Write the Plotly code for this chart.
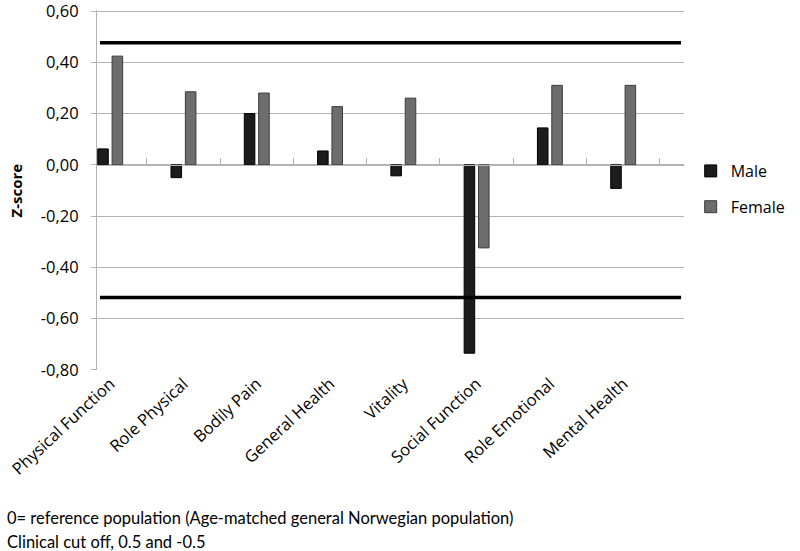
import plotly.graph_objects as go

categories = ["Physical Function", "Role Physical", "Bodily Pain", "General Health",
              "Vitality", "Social Function", "Role Emotional", "Mental Health"]
male = [0.062, -0.050, 0.200, 0.054, -0.043, -0.735, 0.144, -0.092]
female = [0.424, 0.285, 0.280, 0.227, 0.260, -0.324, 0.310, 0.310]
cutoff_upper = 0.476
cutoff_lower = -0.518
y_ticks = [0.6, 0.4, 0.2, 0.0, -0.2, -0.4, -0.6, -0.8]
y_ticktext = ["0,60", "0,40", "0,20", "0,00", "-0,20", "-0,40", "-0,60", "-0,80"]
y_title = "Z-score"
footnote_lines = ["0= reference population (Age-matched general Norwegian population)",
                  "Clinical cut off, 0.5 and -0.5"]

FONT = "Open Sans"
GRID = "#b3b3b3"
ymin, ymax = -0.8, 0.6
yr = [ymin - 0.0005, ymax + 0.004]
xr = [-0.18, 7.83]

L, R, T, B = 97, 91, 10, 181
plot_w = 800 - L - R
plot_h = 551 - T - B

fig = go.Figure()
fig.add_trace(go.Bar(name="Male", x=categories, y=male, legendgroup="m",
                     marker=dict(color="#1c1c1c", line=dict(color="#000000", width=1))))
fig.add_trace(go.Bar(name="Female", x=categories, y=female, legendgroup="f",
                     marker=dict(color="#6d6d6d", line=dict(color="#3c3c3c", width=1))))

# category boundary tick marks on the zero line
boundaries = [i + 0.5 for i in range(len(categories))]
fig.add_trace(go.Scatter(x=boundaries, y=[0] * len(boundaries), xaxis="x2", yaxis="y",
                         mode="markers", marker=dict(opacity=0), hoverinfo="skip",
                         showlegend=False))

for v in (cutoff_upper, cutoff_lower):
    fig.add_shape(type="line", xref="paper", x0=0.005, x1=0.995, yref="y", y0=v, y1=v,
                  line=dict(color="#000000", width=3.5), layer="above")

fig.add_annotation(text="<b>" + y_title + "</b>", xref="paper", yref="paper",
                   x=(13 - L) / plot_w, y=0.5, xanchor="center", yanchor="middle",
                   textangle=-90, showarrow=False, font=dict(size=15, color="#000000"))

for i, line in enumerate(footnote_lines):
    y_px = 518 + 24 * i
    fig.add_annotation(text=line, xref="paper", yref="paper",
                       x=-(L - 1) / plot_w, y=(551 - B - y_px) / plot_h,
                       xanchor="left", yanchor="middle", showarrow=False, align="left",
                       font=dict(family="Lato", size=16.5, color="#000000"))

fig.update_layout(
    width=800, height=551,
    margin=dict(l=L, r=R, t=T, b=B, pad=0),
    paper_bgcolor="white", plot_bgcolor="white",
    barmode="group", bargap=0.608, bargroupgap=0.265,
    font=dict(family=FONT, size=16, color="#000000"),
    xaxis=dict(type="category", range=xr, showgrid=False, showline=False, ticks="",
               tickangle=-43, tickfont=dict(size=16.5), zeroline=False, automargin=False),
    xaxis2=dict(overlaying="x", anchor="free", side="bottom",
                position=(0 - yr[0]) / (yr[1] - yr[0]), range=xr,
                tickmode="array", tickvals=boundaries, showticklabels=False,
                ticks="inside", ticklen=7, tickcolor=GRID, tickwidth=1,
                showline=True, linecolor=GRID, linewidth=1, showgrid=False, zeroline=False,
                automargin=False),
    yaxis=dict(range=yr, tickmode="array", tickvals=y_ticks, ticktext=y_ticktext,
               showgrid=True, gridcolor=GRID, gridwidth=1, zeroline=False,
               showline=True, linecolor=GRID, linewidth=1,
               ticks="outside", ticklen=5, tickcolor=GRID, tickwidth=1,
               tickfont=dict(size=16.5), ticklabelstandoff=9, automargin=False,
               ticklabeloverflow="allow"),
    legend=dict(x=1.0114, y=0.60, xanchor="left", yanchor="top",
                font=dict(size=16), tracegroupgap=12, itemwidth=30),
    showlegend=True,
)

fig.write_html("out.html", config={"displayModeBar": False},
               post_script="document.body.style.margin='0';document.body.style.overflow='hidden';")
